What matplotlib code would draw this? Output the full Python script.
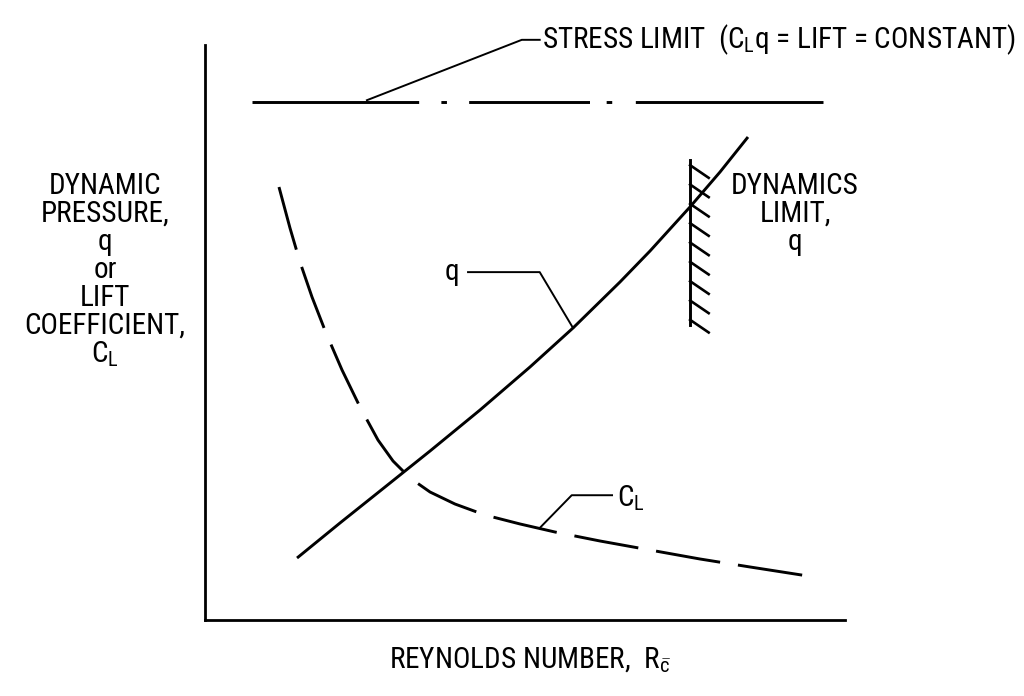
import matplotlib.pyplot as plt
import numpy as np

plt.rcParams['font.family'] = ['Roboto Condensed', 'DejaVu Sans']
plt.rcParams['font.stretch'] = 'condensed'
plt.rcParams['mathtext.fontset'] = 'custom'
plt.rcParams['mathtext.rm'] = 'Roboto Condensed'
plt.rcParams['mathtext.it'] = 'Roboto Condensed'
plt.rcParams['lines.scale_dashes'] = False

# dynamic pressure q against Reynolds number (arbitrary units, 0-10)
reynolds_q = [1.438, 2.109, 2.813, 3.516, 4.297, 5.078, 5.750, 6.484, 6.953, 7.578, 8.047, 8.484]
q_values = [1.078, 1.687, 2.313, 2.939, 3.652, 4.400, 5.078, 5.878, 6.417, 7.183, 7.791, 8.400]

# lift coefficient C_L against Reynolds number
reynolds_cl = [1.156, 1.328, 1.484, 1.672, 1.891, 2.141, 2.422, 2.703, 2.938, 3.203,
               3.516, 3.906, 4.375, 4.922, 5.469, 6.172, 6.953, 7.734, 8.516, 9.422]
cl_values = [7.530, 6.817, 6.226, 5.617, 4.991, 4.348, 3.704, 3.130, 2.765, 2.470,
             2.226, 2.017, 1.826, 1.670, 1.530, 1.374, 1.217, 1.061, 0.922, 0.765]

# stress limit (C_L q = lift = constant)
stress_level = 9.01
stress_span = [0.73, 9.66]

# dynamics limit on q
dyn_limit_re = 7.58
dyn_limit_low = 5.13
dyn_limit_high = 8.00

fig = plt.figure(figsize=(10.24, 6.96), dpi=100)
ax = fig.add_axes([205 / 1024, 76 / 696, 640 / 1024, 575 / 696])
ax.set_xlim(0, 10)
ax.set_ylim(0, 10)
ax.set_xticks([])
ax.set_yticks([])
for side in ['top', 'right']:
    ax.spines[side].set_visible(False)
for side in ['left', 'bottom']:
    ax.spines[side].set_linewidth(2.0)

lw = 2.1

# stress limit: long dash - dot - dash - dot - long dash
ax.plot(stress_span, [stress_level, stress_level], color='black', lw=lw,
        dashes=(120, 16, 4, 16, 87, 12, 4, 17, 140, 40), clip_on=False)

# q (solid) and C_L (dashed)
ax.plot(reynolds_q, q_values, color='black', lw=lw, solid_capstyle='butt', solid_joinstyle='round')
ax.plot(reynolds_cl, cl_values, color='black', lw=lw, dashes=(46.8, 13))

# dynamics limit with hatching
ax.plot([dyn_limit_re, dyn_limit_re], [dyn_limit_low, dyn_limit_high], color='black', lw=lw)
for yy in np.linspace(dyn_limit_high - 0.09, dyn_limit_low + 0.09, 9):
    ax.plot([dyn_limit_re, dyn_limit_re + 0.29], [yy, yy - 0.22], color='black', lw=1.9)

fs = 21

# leaders and labels
ax.plot([2.53, 4.95, 5.23], [9.04, 10.09, 10.09], color='black', lw=1.4, clip_on=False)
ax.text(5.27, 10.09, 'STRESS LIMIT  ($\\mathrm{C_L}$q = LIFT = CONSTANT)', fontsize=fs,
        ha='left', va='center', clip_on=False)

ax.plot([5.75, 5.23, 4.11], [5.08, 6.05, 6.05], color='black', lw=1.4)
ax.text(3.98, 6.05, 'q', fontsize=fs, ha='right', va='center')

ax.plot([5.23, 5.73, 6.36], [1.60, 2.17, 2.17], color='black', lw=1.4)
ax.text(6.44, 2.12, '$\\mathrm{C_L}$', fontsize=fs, ha='left', va='center')

right_lines = ['DYNAMICS', 'LIMIT,', 'q']
for i, s in enumerate(right_lines):
    fig.text(795 / 1024, 1 - (186 + 28 * i) / 696, s, fontsize=fs, ha='center', va='center')

left_lines = ['DYNAMIC', 'PRESSURE,', 'q', 'or', 'LIFT', 'COEFFICIENT,', '$\\mathrm{C_L}$']
for i, s in enumerate(left_lines):
    fig.text(105 / 1024, 1 - (186 + 28 * i) / 696, s, fontsize=fs, ha='center', va='center')

fig.text(530 / 1024, 1 - 660 / 696, 'REYNOLDS NUMBER,  $\\mathrm{R_{\\bar{c}}}$', fontsize=fs,
         ha='center', va='center')

fig.savefig('out.png', dpi=100)
